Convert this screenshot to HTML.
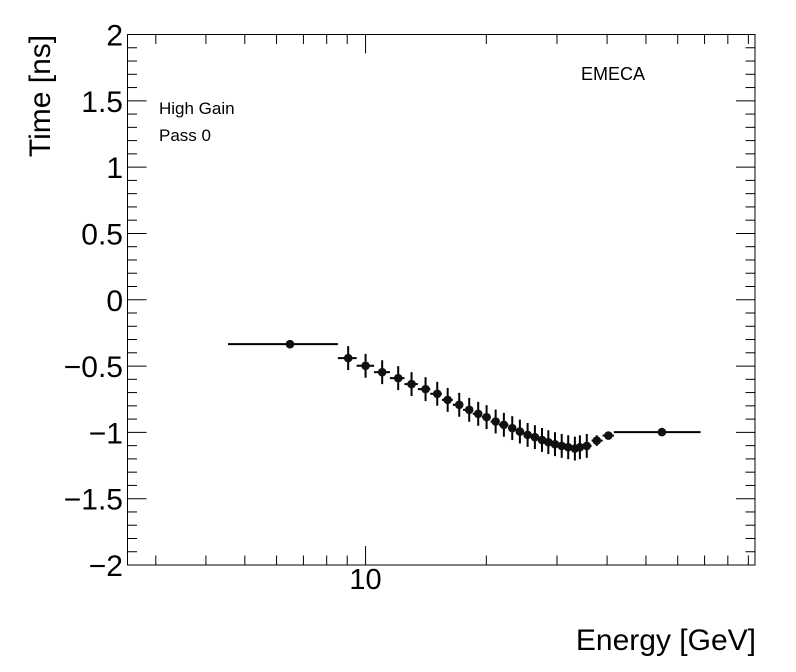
<!DOCTYPE html>
<html><head><meta charset="utf-8"><style>
html,body{margin:0;padding:0;background:#fff;}
svg{display:block;font-family:"Liberation Sans",Arial,sans-serif;}
</style></head><body>
<svg id="chart" width="796" height="672" viewBox="0 0 796 672" xmlns="http://www.w3.org/2000/svg">
<rect x="0" y="0" width="796" height="672" fill="#fff"/>
<g id="axes"></g>
<g id="marks"></g>
<text x="0" y="0" transform="translate(50,96) rotate(-90)" text-anchor="middle" font-size="30">Time [ns]</text>
<text x="756" y="650" text-anchor="end" font-size="30">Energy [GeV]</text>
<text x="581" y="80" font-size="18">EMECA</text>
<text x="159" y="114" font-size="17">High Gain</text>
<text x="159" y="141" font-size="17">Pass 0</text>
</svg>
<script>
const energies = [6.48, 9.05, 10.0, 11.0, 12.06, 13.02, 14.11, 15.09, 16.02, 17.12, 18.13, 19.09, 20.03, 21.10, 22.12, 23.21, 24.25, 25.35, 26.43, 27.53, 28.55, 29.66, 30.83, 32.0, 33.25, 34.22, 35.6, 37.7, 40.3, 54.8];
const times = [-0.335, -0.44, -0.498, -0.546, -0.591, -0.636, -0.674, -0.709, -0.755, -0.792, -0.83, -0.86, -0.885, -0.918, -0.943, -0.968, -0.994, -1.019, -1.036, -1.057, -1.074, -1.089, -1.102, -1.112, -1.122, -1.112, -1.102, -1.062, -1.024, -0.998];
const binLow = [4.54, 8.53, 9.5, 10.5, 11.5, 12.5, 13.5, 14.5, 15.5, 16.5, 17.5, 18.5, 19.5, 20.5, 21.5, 22.7, 23.7, 24.8, 25.9, 27.0, 28.0, 29.1, 30.2, 31.4, 32.6, 33.7, 34.9, 36.6, 39.0, 41.6];
const binHigh = [8.53, 9.5, 10.5, 11.5, 12.5, 13.5, 14.5, 15.5, 16.5, 17.5, 18.5, 19.5, 20.5, 21.5, 22.7, 23.7, 24.8, 25.9, 27.0, 28.0, 29.1, 30.2, 31.4, 32.6, 33.7, 34.9, 36.6, 39.0, 41.6, 68.4];
const timeErr = [0.01, 0.09, 0.09, 0.09, 0.09, 0.09, 0.09, 0.09, 0.09, 0.09, 0.09, 0.09, 0.09, 0.09, 0.09, 0.09, 0.09, 0.09, 0.09, 0.09, 0.09, 0.09, 0.09, 0.09, 0.09, 0.09, 0.09, 0.04, 0.02, 0.01];
const yTickLabels = ["-2","-1.5","-1","-0.5","0","0.5","1","1.5","2"];
const yTickValues = [-2,-1.5,-1,-0.5,0,0.5,1,1.5,2];
const xMajorValues = [10];
const xMajorLabels = ["10"];
const xMinorValues = [3,4,5,6,7,8,9,20,30,40,50,60,70,80,90];

const NS="http://www.w3.org/2000/svg";
const L=127.5,R=755,T=34.5,B=565;
const xMin=Math.log10(2.55), xMax=Math.log10(93.5);
function X(e){return L+(Math.log10(e)-xMin)/(xMax-xMin)*(R-L);}
function Y(t){return B-(t+2)/4*(B-T);}
function el(tag,attrs,parent){const e=document.createElementNS(NS,tag);for(const k in attrs)e.setAttribute(k,attrs[k]);parent.appendChild(e);return e;}
const axes=document.getElementById('axes'), marks=document.getElementById('marks');

const frame=el('rect',{x:L,y:T,width:R-L,height:B-T,fill:'none',stroke:'#000','stroke-width':1},axes);



for(let v=-2;v<=2.0001;v+=0.1){
  const major=Math.abs(v*2-Math.round(v*2))<1e-6;
  const len=major?19:9.5;const y=Y(v);
  const t1=el('line',{x1:L,y1:y,x2:L+len,y2:y,stroke:'#000'},axes);
  
  
  const t2=el('line',{x1:R,y1:y,x2:R-len,y2:y,stroke:'#000'},axes);
  
  
}
yTickValues.forEach((v,i)=>{
  const tx=el('text',{x:123,y:Y(v)+11,'text-anchor':'end','font-size':30},axes);
  tx.textContent=yTickLabels[i].replace('-','\u2212');
  
  
});
xMinorValues.forEach(v=>{
  const x=X(v);
  const a=el('line',{x1:x,y1:B,x2:x,y2:B-9.5,stroke:'#000'},axes);
  
  
  const b=el('line',{x1:x,y1:T,x2:x,y2:T+9.5,stroke:'#000'},axes);
  
  
});
xMajorValues.forEach((v,i)=>{
  const x=X(v);
  const a=el('line',{x1:x,y1:B,x2:x,y2:B-19,stroke:'#000'},axes);
  
  
  const b=el('line',{x1:x,y1:T,x2:x,y2:T+19,stroke:'#000'},axes);
  
  
  const tx=el('text',{x:x,y:589,'text-anchor':'middle','font-size':29},axes);
  tx.textContent=xMajorLabels[i];
  
  
});
energies.forEach((e,i)=>{
  const x=X(e),y=Y(times[i]);
  const g=el('g',{},marks);
  
  
  el('line',{x1:X(binLow[i]),y1:y,x2:X(binHigh[i]),y2:y,stroke:'#000','stroke-width':2},g);
  el('line',{x1:x,y1:Y(times[i]-timeErr[i]),x2:x,y2:Y(times[i]+timeErr[i]),stroke:'#000','stroke-width':2},g);
  el('circle',{cx:x,cy:y,r:4.3,fill:'#111'},g);
});
</script>
</body></html>
